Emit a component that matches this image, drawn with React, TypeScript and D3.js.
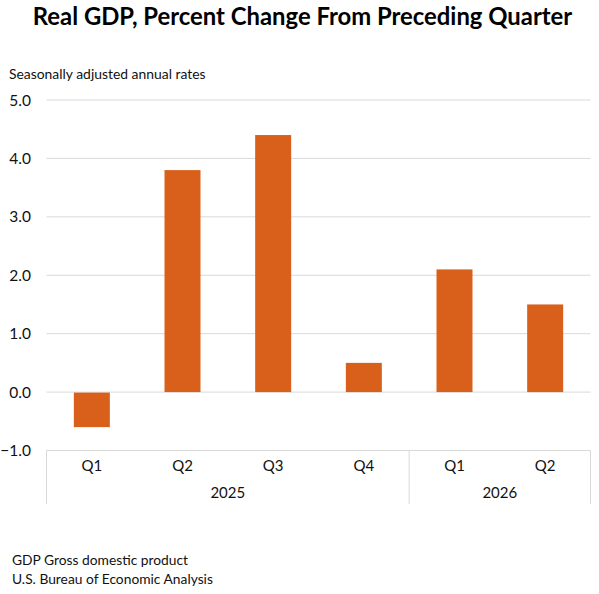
import React from "react";
import * as d3 from "d3";

const quarters = ["Q1", "Q2", "Q3", "Q4", "Q1", "Q2"];
const values = [-0.6, 3.8, 4.4, 0.5, 2.1, 1.5];
const yTicks = [5, 4, 3, 2, 1, 0, -1];
const years = [
  { label: "2025", start: 0, end: 4 },
  { label: "2026", start: 4, end: 6 },
];
const titleText = "Real GDP, Percent Change From Preceding Quarter";
const subtitleText = "Seasonally adjusted annual rates";
const notes = ["GDP Gross domestic product", "U.S. Bureau of Economic Analysis"];

const W = 599, H = 594;
const left = 46.5, right = 590.5, top = 100, bottom = 450.5;
const GRID = "#d9d9d9";
const BAR = "#d9601a";
const FONT = "Lato, 'Open Sans', sans-serif";
const TEXT = "#111";

export default function App() {
  const y = d3.scaleLinear().domain([-1, 5]).range([bottom, top]);
  const idx = d3.range(quarters.length).map(String);
  const x = d3.scaleBand().domain(idx).range([left, right]).paddingInner(0.603).paddingOuter(0.3015);
  const edge = (i: number) => left + (i * (right - left)) / quarters.length;
  return (
    <svg width={W} height={H} viewBox={`0 0 ${W} ${H}`} style={{ position: "absolute", left: 0, top: 0, background: "#fff" }} fontFamily={FONT}>
      <text x={302.5} y={25} textAnchor="middle" fontSize={23.85} fontWeight={700} fill="#000">{titleText}</text>
      <text x={9} y={79} fontSize={13.9} fill={TEXT}>{subtitleText}</text>
      {yTicks.map((t) => (
        <g key={t}>
          {t !== -1 && <line x1={left} x2={right} y1={y(t)} y2={y(t)} stroke={GRID} strokeWidth={1} />}
          <text x={31} y={y(t) + 5.5} textAnchor="end" fontSize={15.5} fill={TEXT}>
            {t < 0 ? "\u2212" + d3.format(".1f")(-t) : d3.format(".1f")(t)}
          </text>
        </g>
      ))}
      {values.map((v, i) => (
        <rect key={i} x={x(String(i))} width={x.bandwidth()} y={y(Math.max(v, 0)) + (v < 0 ? 0.5 : 0)} height={Math.abs(y(v) - y(0)) - (v < 0 ? 0.5 : 0)} fill={BAR} />
      ))}
      <line x1={left} x2={right} y1={bottom} y2={bottom} stroke={GRID} />
      {quarters.map((q, i) => (
        <text key={i} x={x(String(i))! + x.bandwidth() / 2} y={471} textAnchor="middle" fontSize={15} fill={TEXT}>{q}</text>
      ))}
      {years.map((yr) => (
        <text key={yr.label} x={(edge(yr.start) + edge(yr.end)) / 2} y={498} textAnchor="middle" fontSize={15} fill={TEXT}>{yr.label}</text>
      ))}
      {[0, 4, 6].map((i) => (
        <line key={i} x1={edge(i)} x2={edge(i)} y1={bottom} y2={504} stroke={GRID} />
      ))}
      {notes.map((n, i) => (
        <text key={n} x={12} y={565 + i * 19} fontSize={13.8} fill={TEXT}>{n}</text>
      ))}
    </svg>
  );
}
